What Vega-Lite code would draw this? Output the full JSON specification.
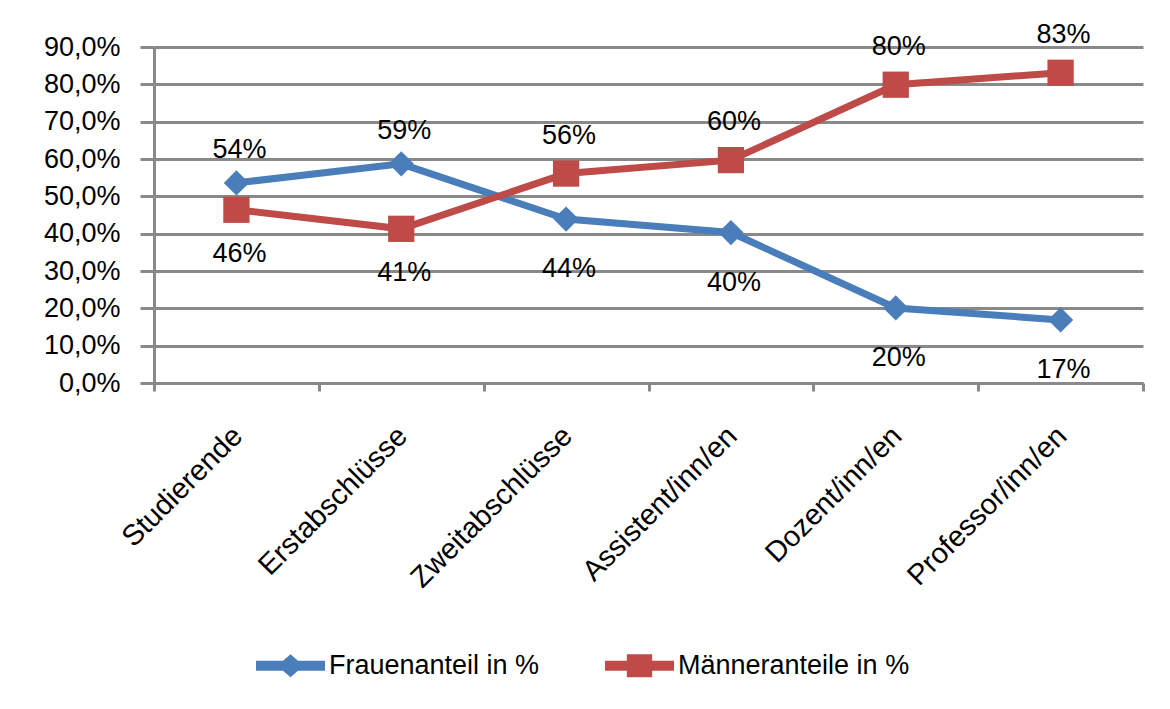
{
  "$schema": "https://vega.github.io/schema/vega-lite/v6.json",
  "width": 989,
  "height": 336,
  "autosize": "none",
  "padding": {"left": 154, "top": 47, "right": 27, "bottom": 326},
  "background": "white",
  "config": {"view": {"stroke": null}, "font": "Liberation Sans"},
  "data": {
    "values": [
      {"category": "Studierende", "series": "Frauenanteil in %", "value": 0.536},
      {"category": "Erstabschlüsse", "series": "Frauenanteil in %", "value": 0.587},
      {"category": "Zweitabschlüsse", "series": "Frauenanteil in %", "value": 0.439},
      {"category": "Assistent/inn/en", "series": "Frauenanteil in %", "value": 0.403},
      {"category": "Dozent/inn/en", "series": "Frauenanteil in %", "value": 0.201},
      {"category": "Professor/inn/en", "series": "Frauenanteil in %", "value": 0.169},
      {"category": "Studierende", "series": "Männeranteile in %", "value": 0.464},
      {"category": "Erstabschlüsse", "series": "Männeranteile in %", "value": 0.413},
      {"category": "Zweitabschlüsse", "series": "Männeranteile in %", "value": 0.561},
      {"category": "Assistent/inn/en", "series": "Männeranteile in %", "value": 0.597},
      {"category": "Dozent/inn/en", "series": "Männeranteile in %", "value": 0.799},
      {"category": "Professor/inn/en", "series": "Männeranteile in %", "value": 0.831}
    ]
  },
  "encoding": {
    "x": {
      "field": "category",
      "type": "nominal",
      "sort": null,
      "scale": {"type": "band", "paddingInner": 0, "paddingOuter": 0},
      "axis": {
        "title": null,
        "labelAngle": -45,
        "labelAlign": "right",
        "labelBaseline": "top",
        "labelFontSize": 29,
        "labelFont": "Liberation Sans",
        "labelColor": "black",
        "labelPadding": 30,
        "labelLimit": 0,
        "labelOffset": -9,
        "tickBand": "extent",
        "tickSize": 8,
        "tickWidth": 3,
        "tickColor": "#898989",
        "domainColor": "#898989",
        "domainWidth": 3,
        "grid": false
      }
    },
    "y": {
      "field": "value",
      "type": "quantitative",
      "scale": {"domain": [0, 0.9], "nice": false},
      "axis": {
        "title": null,
        "values": [0, 0.1, 0.2, 0.3, 0.4, 0.5, 0.6, 0.7, 0.8, 0.9],
        "labelExpr": "replace(format(datum.value, '.1%'), '.', ',')",
        "labelFontSize": 27,
        "labelFont": "Liberation Sans",
        "labelColor": "black",
        "labelPadding": 20,
        "tickSize": 14,
        "tickWidth": 3,
        "tickColor": "#898989",
        "domainColor": "#898989",
        "domainWidth": 3,
        "grid": true,
        "gridColor": "#898989",
        "gridWidth": 3
      }
    }
  },
  "layer": [
    {
      "encoding": {
        "color": {
          "field": "series",
          "type": "nominal",
          "sort": null,
          "scale": {"domain": ["Frauenanteil in %", "Männeranteile in %"], "range": ["#4A7EBB", "#BE4B48"]},
          "legend": {
            "title": null,
            "orient": "none",
            "legendX": 123,
            "legendY": 605,
            "direction": "horizontal",
            "labelFontSize": 27,
            "labelFont": "Liberation Sans",
            "labelColor": "black",
            "labelLimit": 0,
            "symbolSize": 529,
            "labelOffset": 25,
            "columnPadding": 65,
            "symbolStrokeWidth": 0,
            "symbolOpacity": 1,
            "encode": {
              "symbols": {
                "update": {
                  "shape": {"signal": "datum.value === 'Frauenanteil in %' ? 'M-3,-0.43L-0.65,-0.43L0,-1L0.65,-0.43L3,-0.43L3,0.43L0.65,0.43L0,1L-0.65,0.43L-3,0.43Z' : 'M-3,-0.43L-1.1,-0.43L-1.1,-1L1.1,-1L1.1,-0.43L3,-0.43L3,0.43L1.1,0.43L1.1,1L-1.1,1L-1.1,0.43L-3,0.43Z'"},
                  "fill": {"scale": "color", "field": "value"},
                  "strokeWidth": {"value": 0},
                  "opacity": {"value": 1}
                }
              }
            }
          }
        }
      },
      "layer": [
        {"mark": {"type": "line", "strokeWidth": 7}},
        {
          "transform": [{"filter": "datum.series === 'Frauenanteil in %'"}],
          "mark": {"type": "point", "shape": "diamond", "filled": true, "opacity": 1, "size": 640}
        },
        {
          "transform": [{"filter": "datum.series === 'Männeranteile in %'"}],
          "mark": {"type": "point", "shape": "square", "filled": true, "opacity": 1, "size": 690}
        }
      ]
    },
    {
      "transform": [
        {"joinaggregate": [{"op": "max", "field": "value", "as": "maxv"}], "groupby": ["category"]},
        {"filter": "datum.series === 'Frauenanteil in %' && datum.value === datum.maxv"}
      ],
      "mark": {"type": "text", "fontSize": 27, "font": "Liberation Sans", "baseline": "middle", "dy": -33, "dx": 3, "color": "black"},
      "encoding": {"text": {"field": "value", "type": "quantitative", "format": ".0%"}}
    },
    {
      "transform": [
        {"joinaggregate": [{"op": "max", "field": "value", "as": "maxv"}], "groupby": ["category"]},
        {"filter": "datum.series === 'Frauenanteil in %' && datum.value < datum.maxv"}
      ],
      "mark": {"type": "text", "fontSize": 27, "font": "Liberation Sans", "baseline": "middle", "dy": 50, "dx": 3, "color": "black"},
      "encoding": {"text": {"field": "value", "type": "quantitative", "format": ".0%"}}
    },
    {
      "transform": [
        {"joinaggregate": [{"op": "max", "field": "value", "as": "maxv"}], "groupby": ["category"]},
        {"filter": "datum.series === 'Männeranteile in %' && datum.value === datum.maxv"}
      ],
      "mark": {"type": "text", "fontSize": 27, "font": "Liberation Sans", "baseline": "middle", "dy": -38, "dx": 3, "color": "black"},
      "encoding": {"text": {"field": "value", "type": "quantitative", "format": ".0%"}}
    },
    {
      "transform": [
        {"joinaggregate": [{"op": "max", "field": "value", "as": "maxv"}], "groupby": ["category"]},
        {"filter": "datum.series === 'Männeranteile in %' && datum.value < datum.maxv"}
      ],
      "mark": {"type": "text", "fontSize": 27, "font": "Liberation Sans", "baseline": "middle", "dy": 44, "dx": 3, "color": "black"},
      "encoding": {"text": {"field": "value", "type": "quantitative", "format": ".0%"}}
    }
  ]
}
